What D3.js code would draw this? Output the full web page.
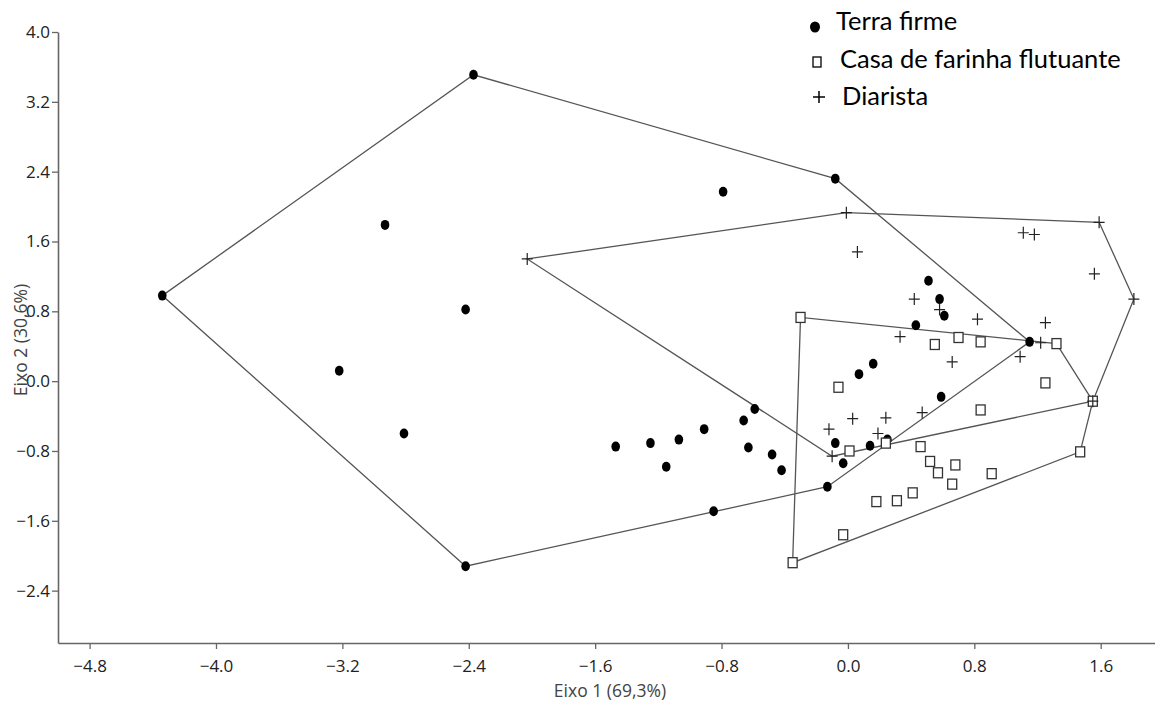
<!DOCTYPE html>
<html lang="pt">
<head>
  <meta charset="UTF-8" />
  <title>Eixo 1 x Eixo 2</title>
  <style>
    body { margin: 0; background: #ffffff; }
    svg { display: block; }
    .legend text { font-family: Lato, "Open Sans", sans-serif; font-size: 25.5px; fill: #000; }
    .title { font-family: "Open Sans", sans-serif; font-size: 17.5px; fill: #444; }
  </style>
  <script src="https://d3js.org/d3.v7.min.js"></script>
</head>
<body>
  <svg id="chart" width="1155" height="702"></svg>
  <script>
    // group names and scores on the two axes
    const groups = ["Terra firme", "Casa de farinha flutuante", "Diarista"];

    const terraX = [-4.34, -2.37, -2.93, -2.42, -3.22, -2.81, -2.42, -0.79, -0.08, -1.47,
      -1.25, -1.15, -1.07, -0.91, -0.66, -0.59, -0.63, -0.48, -0.42, -0.85,
      -0.13, -0.08, -0.03, 0.07, 0.16, 0.14, 0.25, 0.43, 0.51, 0.58, 0.61, 0.59, 1.15];
    const terraY = [0.98, 3.51, 1.79, 0.82, 0.12, -0.60, -2.12, 2.17, 2.32, -0.75,
      -0.71, -0.98, -0.67, -0.55, -0.45, -0.32, -0.76, -0.84, -1.02, -1.49,
      -1.21, -0.71, -0.94, 0.08, 0.20, -0.74, -0.67, 0.64, 1.15, 0.94, 0.75, -0.18, 0.45];

    const casaX = [-0.30, -0.06, 0.55, 0.70, 0.84, 1.32, 1.25, 0.84, 1.55, 1.47, 0.01, 0.24,
      0.46, 0.52, 0.57, 0.68, 0.66, 0.91, 0.18, 0.31, 0.41, -0.03, -0.35];
    const casaY = [0.73, -0.07, 0.42, 0.50, 0.45, 0.43, -0.02, -0.33, -0.23, -0.81, -0.80, -0.71,
      -0.75, -0.92, -1.05, -0.96, -1.18, -1.06, -1.38, -1.37, -1.28, -1.76, -2.08];

    const diarX = [-2.03, -0.01, 1.59, 1.81, 1.11, 1.18, 1.56, 0.06, 0.42, 0.58, 0.33, 0.66,
      0.82, 1.25, 1.09, 1.22, 1.55, -0.12, 0.03, 0.24, 0.47, 0.19, -0.10];
    const diarY = [1.40, 1.93, 1.82, 0.94, 1.70, 1.68, 1.23, 1.48, 0.94, 0.82, 0.51, 0.22,
      0.71, 0.67, 0.28, 0.44, -0.23, -0.55, -0.43, -0.42, -0.36, -0.60, -0.86];

    const xTicks = [-4.8, -4.0, -3.2, -2.4, -1.6, -0.8, 0.0, 0.8, 1.6];
    const yTicks = [4.0, 3.2, 2.4, 1.6, 0.8, 0.0, -0.8, -1.6, -2.4];

    const svg = d3.select("#chart");
    const x = d3.scaleLinear().domain([-5.0, 1.95]).range([58, 1156]);
    const y = d3.scaleLinear().domain([-3.0, 4.0]).range([643, 32]);

    const toPts = (xs, ys) => xs.map((v, i) => [x(v), y(ys[i])]);
    const sets = [toPts(terraX, terraY), toPts(casaX, casaY), toPts(diarX, diarY)];

    // convex hulls
    const hullG = svg.append("g");
    sets.forEach(pts => {
      const hull = d3.polygonHull(pts);
      hullG.append("path")
        .attr("d", "M" + hull.join("L") + "Z")
        .attr("fill", "none")
        .attr("stroke", "#555")
        .attr("stroke-width", 1.3);
    });

    // axes
    const xAxis = svg.append("g")
      .attr("transform", "translate(0,643)")
      .call(d3.axisBottom(x).tickValues(xTicks).tickFormat(d3.format(".1f")).tickSize(6).tickSizeOuter(0));
    const yAxis = svg.append("g")
      .attr("transform", "translate(58,0)")
      .call(d3.axisLeft(y).tickValues(yTicks).tickFormat(d3.format(".1f")).tickSize(6).tickSizeOuter(0));
    [xAxis, yAxis].forEach(a => {
      a.attr("font-family", "'Open Sans', sans-serif").attr("font-size", 17);
      a.select(".domain").attr("stroke", "#666").attr("stroke-width", 1.6);
      a.selectAll(".tick line").attr("stroke", "#666").attr("stroke-width", 1.3);
      a.selectAll(".tick text").attr("fill", "#222");
    });
    xAxis.selectAll(".tick text").attr("dy", "1.2em");
    yAxis.selectAll(".tick text").attr("x", -8);

    svg.append("text").attr("class", "title")
      .attr("x", 610).attr("y", 697).attr("text-anchor", "middle")
      .text("Eixo 1 (69,3%)");
    svg.append("text").attr("class", "title")
      .attr("transform", "translate(27,340) rotate(-90)")
      .attr("text-anchor", "middle")
      .text("Eixo 2 (30,6%)");

    // markers
    const markG = svg.append("g");
    function dot(g, px, py) {
      g.append("ellipse").attr("cx", px).attr("cy", py).attr("rx", 4.3).attr("ry", 5).attr("fill", "#000");
    }
    function square(g, px, py) {
      g.append("rect").attr("x", px - 4.5).attr("y", py - 5).attr("width", 9).attr("height", 10)
        .attr("fill", "#fff").attr("stroke", "#333").attr("stroke-width", 1.3);
    }
    function plus(g, px, py) {
      g.append("path").attr("d", `M${px - 5.5},${py}H${px + 5.5}M${px},${py - 6}V${py + 6}`)
        .attr("stroke", "#222").attr("stroke-width", 1.2).attr("fill", "none");
    }
    const drawers = [dot, square, plus];
    sets.forEach((pts, k) => pts.forEach(p => drawers[k](markG, p[0], p[1])));

    // legend
    const leg = svg.append("g").attr("class", "legend");
    const legY = [30, 68, 105];
    const legX = [836, 840, 842];
    groups.forEach((name, i) => {
      leg.append("text").attr("x", legX[i]).attr("y", legY[i]).text(name);
    });
    dot(leg, 815, 27);
    leg.select("ellipse").attr("rx", 5).attr("ry", 5.5);
    leg.append("rect").attr("x", 813).attr("y", 57).attr("width", 8).attr("height", 10)
      .attr("fill", "#fff").attr("stroke", "#000").attr("stroke-width", 1.3);
    leg.append("path").attr("d", "M813,97H825M819,91V103").attr("stroke", "#000").attr("stroke-width", 1.5);
  </script>
</body>
</html>
